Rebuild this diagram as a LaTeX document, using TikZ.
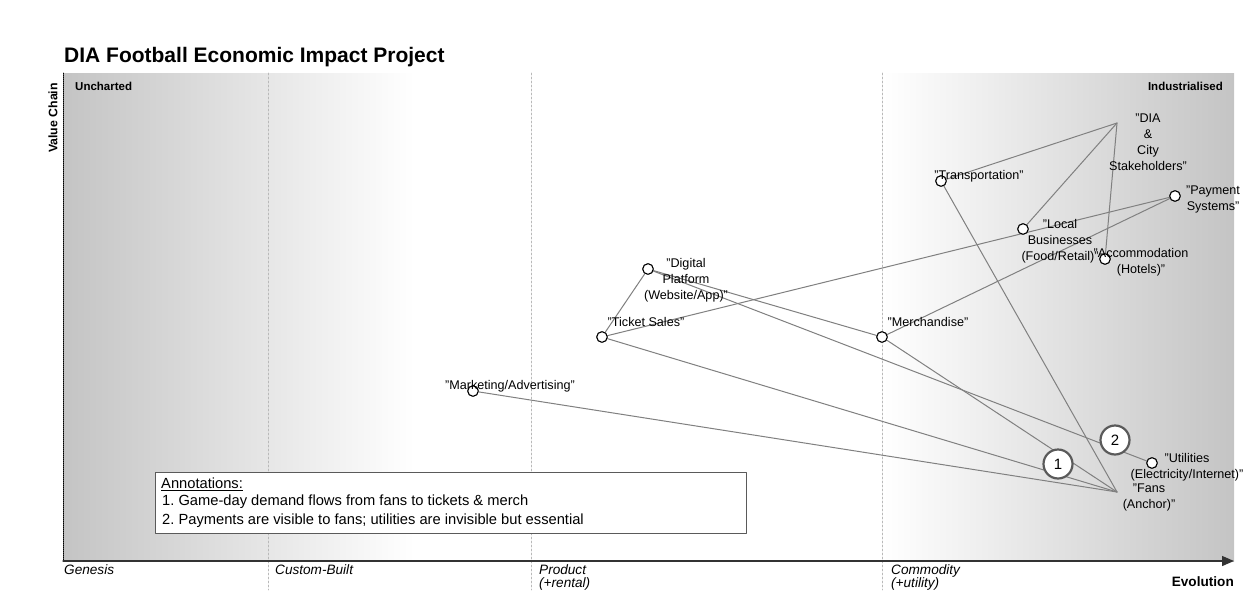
\documentclass[tikz,border=0pt]{standalone}
\usepackage{fontspec}
\setmainfont{Liberation Sans}
\usetikzlibrary{arrows.meta}
\definecolor{bgdark}{RGB}{196,196,196}
\definecolor{linkgray}{RGB}{128,128,128}
\definecolor{gridgray}{RGB}{185,185,185}
\definecolor{notegray}{RGB}{90,90,90}
\frenchspacing
\begin{document}
\begin{tikzpicture}[x=1pt,y=-1pt,line join=round,line cap=round,
		comp/.style={circle,draw=black,fill=white,line width=1pt,minimum size=10.5pt,inner sep=0pt},
		lbl/.style={inner sep=0pt,align=center,font=\fontsize{12.6}{16}\selectfont},
		link/.style={draw=linkgray,line width=1pt},
		notemark/.style={circle,draw=notegray,fill=white,line width=2.2pt,minimum size=29pt,inner sep=0pt,font=\fontsize{15}{18}\selectfont},
		stage/.style={inner sep=0pt,anchor=north west,align=left,font=\fontsize{13.6}{13}\selectfont\itshape},
		corner/.style={inner sep=0pt,font=\fontsize{11.5}{13}\selectfont\bfseries},
		notetext/.style={inner sep=0pt,anchor=west,font=\fontsize{14.7}{18}\selectfont}]
	\useasboundingbox (0,0) rectangle (1255,605);
	% Corners of the map
	\coordinate (A) at (63,73);
	\coordinate (B) at (1234,73);
	\coordinate (C) at (1234,561);
	\coordinate (D) at (63,561);
	% Background bands
	\shade[left color=bgdark,right color=white] (A) rectangle (414,561);
	\fill[white] (414,73) rectangle (883,561);
	\shade[left color=white,right color=bgdark] (883,73) rectangle (C);
	% Stage lines
	\foreach \x in {268,531,882} {
		\draw[gridgray,line width=0.8pt,dash pattern=on 2pt off 2pt] (\x,73) -- (\x,590);
	}
	\draw[black,line width=0.9pt,dash pattern=on 1pt off 1pt] (A) -- (D);
	\draw[black!80,line width=1.3pt,-{Triangle[length=12pt,width=10pt]}] (D) -- (C);
	% Title and axes
	\node[inner sep=0pt,anchor=west,font=\fontsize{21}{24}\selectfont\bfseries] (title) at (64,57) {DIA Football Economic Impact Project};
	\node[inner sep=0pt,rotate=90,font=\fontsize{12.3}{14}\selectfont\bfseries] (vchain) at (53,118) {Value Chain};
	\node[corner,anchor=west] (uncharted) at (75,86) {Uncharted};
	\node[corner,anchor=east] (industrial) at (1223,86) {Industrialised};
	\node[inner sep=0pt,anchor=east,font=\fontsize{13.6}{16}\selectfont\bfseries] (evolution) at (1234,582) {Evolution};
	\node[stage] (genesis) at (64,564) {Genesis};
	\node[stage] (custom) at (275,564) {Custom-Built};
	\node[stage] (product) at (539,564) {Product\\(+rental)};
	\node[stage] (commodity) at (891,564) {Commodity\\(+utility)};
	% Components
	\coordinate (dia) at (1117,123);
	\coordinate (fans) at (1117,492);
	\node[comp] (transport) at (941,181) {};
	\node[comp] (payment) at (1175,196) {};
	\node[comp] (local) at (1023,229) {};
	\node[comp] (hotels) at (1105,259) {};
	\node[comp] (digital) at (648,269) {};
	\node[comp] (tickets) at (602,337) {};
	\node[comp] (merch) at (882,337) {};
	\node[comp] (marketing) at (473,391) {};
	\node[comp] (utilities) at (1152,463) {};
	% Links
	\foreach \a/\b in {dia/transport,dia/local,dia/hotels,transport/fans,tickets/payment,merch/payment,
		digital/tickets,digital/merch,digital/utilities,tickets/fans,merch/fans,marketing/fans} {
		\draw[link] (\a) -- (\b);
	}
	\foreach \n in {transport,payment,local,hotels,digital,tickets,merch,marketing,utilities} {
		\node[comp] at (\n) {};
	}
	% Labels
	\node[lbl] (diaL) at (1148,142) {"DIA\\\&\\City\\Stakeholders"};
	\node[lbl] (transportL) at (979,176) {"Transportation"};
	\node[lbl] (paymentL) at (1213,199) {"Payment\\Systems"};
	\node[lbl] (localL) at (1060,241) {"Local\\Businesses\\(Food/Retail)"};
	\node[lbl] (hotelsL) at (1141,262) {"Accommodation\\(Hotels)"};
	\node[lbl] (digitalL) at (686,280) {"Digital\\Platform\\(Website/App)"};
	\node[lbl] (ticketsL) at (646,322) {"Ticket Sales"};
	\node[lbl] (merchL) at (928,322) {"Merchandise"};
	\node[lbl] (marketingL) at (510,386) {"Marketing/Advertising"};
	\node[lbl] (utilitiesL) at (1187,467) {"Utilities\\(Electricity/Internet)"};
	\node[lbl] (fansL) at (1149,497) {"Fans\\(Anchor)"};
	% Annotations
	\node[notemark] (note1) at (1058,464) {1};
	\node[notemark] (note2) at (1115,440) {2};
	\draw[notegray,fill=white,line width=1pt] (155,472) rectangle (746,533);
	\node[notetext] (noteHead) at (161,484) {\underline{Annotations:}};
	\node[notetext] (noteOne) at (162,502) {1. Game-day demand flows from fans to tickets \& merch};
	\node[notetext] (noteTwo) at (162,521) {2. Payments are visible to fans; utilities are invisible but essential};
\end{tikzpicture}
\end{document}
